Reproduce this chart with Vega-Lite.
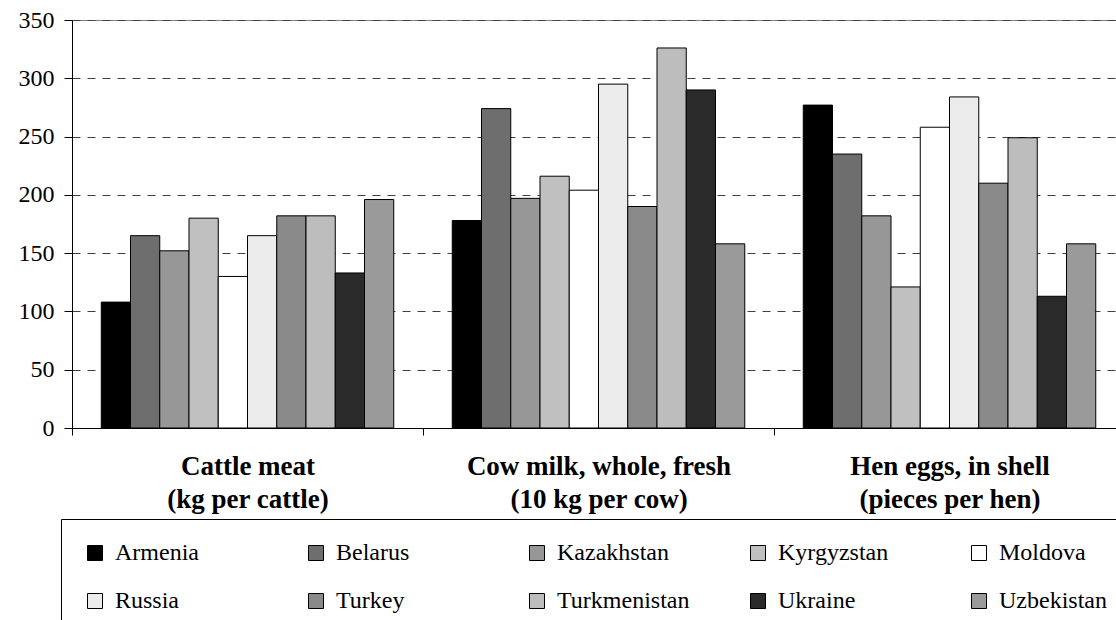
{
  "$schema": "https://vega.github.io/schema/vega-lite/v6.json",
  "width": 1053,
  "height": 408,
  "autosize": {"type": "none"},
  "padding": {"left": 72, "top": 20, "right": -9, "bottom": 192},
  "background": "white",
  "config": {
    "view": {"stroke": "#808080", "strokeWidth": 1}
  },
  "data": {
    "values": [
      {"product": "Cattle meat|(kg per cattle)", "country": "Armenia", "value": 108},
      {"product": "Cattle meat|(kg per cattle)", "country": "Belarus", "value": 165},
      {"product": "Cattle meat|(kg per cattle)", "country": "Kazakhstan", "value": 152},
      {"product": "Cattle meat|(kg per cattle)", "country": "Kyrgyzstan", "value": 180},
      {"product": "Cattle meat|(kg per cattle)", "country": "Moldova", "value": 130},
      {"product": "Cattle meat|(kg per cattle)", "country": "Russia", "value": 165},
      {"product": "Cattle meat|(kg per cattle)", "country": "Turkey", "value": 182},
      {"product": "Cattle meat|(kg per cattle)", "country": "Turkmenistan", "value": 182},
      {"product": "Cattle meat|(kg per cattle)", "country": "Ukraine", "value": 133},
      {"product": "Cattle meat|(kg per cattle)", "country": "Uzbekistan", "value": 196},
      {"product": "Cow milk, whole, fresh|(10 kg per cow)", "country": "Armenia", "value": 178},
      {"product": "Cow milk, whole, fresh|(10 kg per cow)", "country": "Belarus", "value": 274},
      {"product": "Cow milk, whole, fresh|(10 kg per cow)", "country": "Kazakhstan", "value": 197},
      {"product": "Cow milk, whole, fresh|(10 kg per cow)", "country": "Kyrgyzstan", "value": 216},
      {"product": "Cow milk, whole, fresh|(10 kg per cow)", "country": "Moldova", "value": 204},
      {"product": "Cow milk, whole, fresh|(10 kg per cow)", "country": "Russia", "value": 295},
      {"product": "Cow milk, whole, fresh|(10 kg per cow)", "country": "Turkey", "value": 190},
      {"product": "Cow milk, whole, fresh|(10 kg per cow)", "country": "Turkmenistan", "value": 326},
      {"product": "Cow milk, whole, fresh|(10 kg per cow)", "country": "Ukraine", "value": 290},
      {"product": "Cow milk, whole, fresh|(10 kg per cow)", "country": "Uzbekistan", "value": 158},
      {"product": "Hen eggs, in shell|(pieces per hen)", "country": "Armenia", "value": 277},
      {"product": "Hen eggs, in shell|(pieces per hen)", "country": "Belarus", "value": 235},
      {"product": "Hen eggs, in shell|(pieces per hen)", "country": "Kazakhstan", "value": 182},
      {"product": "Hen eggs, in shell|(pieces per hen)", "country": "Kyrgyzstan", "value": 121},
      {"product": "Hen eggs, in shell|(pieces per hen)", "country": "Moldova", "value": 258},
      {"product": "Hen eggs, in shell|(pieces per hen)", "country": "Russia", "value": 284},
      {"product": "Hen eggs, in shell|(pieces per hen)", "country": "Turkey", "value": 210},
      {"product": "Hen eggs, in shell|(pieces per hen)", "country": "Turkmenistan", "value": 249},
      {"product": "Hen eggs, in shell|(pieces per hen)", "country": "Ukraine", "value": 113},
      {"product": "Hen eggs, in shell|(pieces per hen)", "country": "Uzbekistan", "value": 158}
    ]
  },
  "mark": {"type": "bar", "stroke": "black", "strokeWidth": 1},
  "encoding": {
    "x": {
      "field": "product",
      "type": "nominal",
      "sort": null,
      "scale": {"paddingInner": 0, "paddingOuter": 0},
      "axis": {
        "title": null,
        "labelAngle": 0,
        "labelExpr": "split(datum.label, '|')",
        "labelFont": "Liberation Serif",
        "labelFontWeight": "bold",
        "labelFontSize": 27,
        "labelColor": "black",
        "labelLineHeight": 33,
        "labelPadding": 18,
        "labelLimit": 400,
        "domainColor": "black",
        "tickColor": "black",
        "tickBand": "extent",
        "tickSize": 7
      }
    },
    "xOffset": {
      "field": "country",
      "type": "nominal",
      "sort": ["Armenia", "Belarus", "Kazakhstan", "Kyrgyzstan", "Moldova", "Russia", "Turkey", "Turkmenistan", "Ukraine", "Uzbekistan"],
      "scale": {"paddingInner": 0, "paddingOuter": 1.052}
    },
    "y": {
      "field": "value",
      "type": "quantitative",
      "scale": {"domain": [0, 350], "nice": false},
      "axis": {
        "title": null,
        "values": [0, 50, 100, 150, 200, 250, 300, 350],
        "labelFont": "Liberation Serif",
        "labelFontWeight": "normal",
        "labelFontSize": 24,
        "labelColor": "black",
        "labelPadding": 10,
        "tickSize": 8,
        "tickColor": "black",
        "domainColor": "black",
        "grid": true,
        "gridColor": "#404040",
        "gridDash": [8, 7],
        "gridWidth": 1
      }
    },
    "fill": {
      "field": "country",
      "type": "nominal",
      "scale": {
        "domain": ["Armenia", "Belarus", "Kazakhstan", "Kyrgyzstan", "Moldova", "Russia", "Turkey", "Turkmenistan", "Ukraine", "Uzbekistan"],
        "range": ["#000000", "#6e6e6e", "#979797", "#c0c0c0", "#ffffff", "#ececec", "#8a8a8a", "#bdbdbd", "#2a2a2a", "#9a9a9a"]
      },
      "legend": {
        "orient": "none",
        "legendX": -11,
        "legendY": 499,
        "direction": "horizontal",
        "columns": 5,
        "title": null,
        "symbolType": "square",
        "symbolSize": 225,
        "symbolStrokeColor": "black",
        "symbolStrokeWidth": 1,
        "symbolOpacity": 1,
        "labelFont": "Liberation Serif",
        "labelFontWeight": "normal",
        "labelFontSize": 24,
        "labelColor": "black",
        "labelOffset": 8,
        "labelLimit": 300,
        "gridAlign": "all",
        "columnPadding": 56,
        "rowPadding": 24,
        "padding": 22,
        "strokeColor": "black"
      }
    }
  }
}
